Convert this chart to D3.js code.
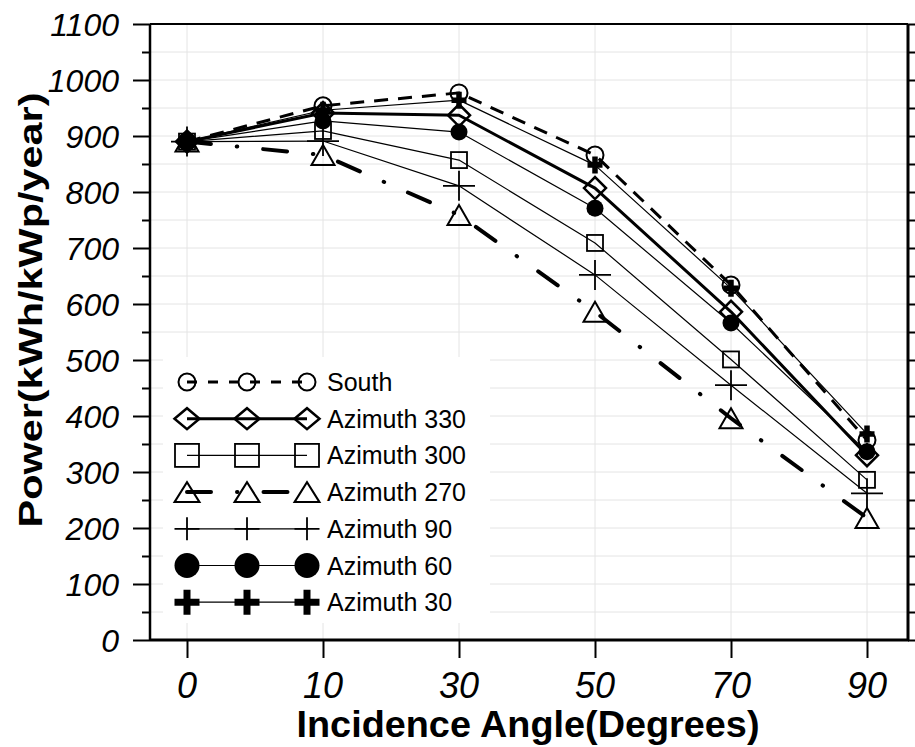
<!DOCTYPE html>
<html><head><meta charset="utf-8">
<script src="https://cdn.jsdelivr.net/npm/d3@7"></script>
<style>body{margin:0;background:#fff}svg{display:block}text{font-family:"Liberation Sans",Arial,sans-serif}</style>
</head><body>
<svg id="c" width="915" height="747"></svg>
<script>
const angles = ["0","10","30","50","70","90"];
const yTickValues = [0,100,200,300,400,500,600,700,800,900,1000,1100];
const seriesNames = ["South","Azimuth 330","Azimuth 300","Azimuth 270","Azimuth 90","Azimuth 60","Azimuth 30"];
const south = [890, 954, 977, 866, 634, 357];
const az330 = [890, 941, 937, 807, 586, 330];
const az300 = [890, 909, 857, 709, 501, 286];
const az270 = [890, 866, 759, 586, 396, 218];
const az90  = [890, 891, 811, 652, 455, 262];
const az60  = [890, 927, 907, 771, 566, 336];
const az30  = [890, 946, 964, 848, 628, 368];
const xTitle = "Incidence Angle(Degrees)";
const yTitle = "Power(kWh/kWp/year)";

const svg = d3.select("#c");
const L=150, R=908, T=24, B=640;
const x = d3.scalePoint().domain(angles).range([187, 867]);
const y = d3.scaleLinear().domain([0,1100]).range([B, T]);

// gridlines
const grid = svg.append("g").attr("stroke","#e4e4e4").attr("stroke-width",1);
d3.range(50,1100,50).forEach(v=>grid.append("line").attr("x1",L).attr("x2",R).attr("y1",y(v)).attr("y2",y(v)));
angles.forEach(a=>grid.append("line").attr("x1",x(a)).attr("x2",x(a)).attr("y1",T).attr("y2",B));

// axes
const leftAxis = svg.append("g").attr("transform",`translate(${L},0)`)
  .call(d3.axisLeft(y).tickValues(yTickValues).tickSize(17).tickFormat(""));
const minor = svg.append("g").attr("transform",`translate(${L},0)`)
  .call(d3.axisLeft(y).tickValues(d3.range(50,1100,100)).tickSize(8).tickFormat(""));
const rightAxis = svg.append("g").attr("transform",`translate(${R},0)`)
  .call(d3.axisRight(y).tickValues(d3.range(0,1101,50)).tickSize(7).tickFormat(""));
const bottomAxis = svg.append("g").attr("transform",`translate(0,${B})`)
  .call(d3.axisBottom(x).tickSize(18).tickFormat(""));
[leftAxis,minor,rightAxis,bottomAxis].forEach(g=>{
  g.select(".domain").remove();
  g.selectAll(".tick line").attr("stroke","#000").attr("stroke-width",2);
});
svg.append("line").attr("x1",L).attr("x2",R).attr("y1",T).attr("y2",T).attr("stroke","#000").attr("stroke-width",2);
svg.append("line").attr("x1",L).attr("x2",L).attr("y1",T).attr("y2",B+1).attr("stroke","#000").attr("stroke-width",2.5);
svg.append("line").attr("x1",R).attr("x2",R).attr("y1",T).attr("y2",B+1).attr("stroke","#000").attr("stroke-width",3);
svg.append("line").attr("x1",L).attr("x2",R+1).attr("y1",B).attr("y2",B).attr("stroke","#000").attr("stroke-width",3);

// tick labels
yTickValues.forEach(v=>svg.append("text").attr("x",119).attr("y",y(v)).attr("dy","0.36em")
  .attr("text-anchor","end").attr("font-style","italic").attr("font-size",32).text(v));
angles.forEach(a=>svg.append("text").attr("x",x(a)).attr("y",698)
  .attr("text-anchor","middle").attr("font-style","italic").attr("font-size",36).text(a));

// titles
svg.append("text").attr("x",528).attr("y",737).attr("text-anchor","middle")
  .attr("font-weight","bold").attr("font-size",37).attr("textLength",463).attr("lengthAdjust","spacingAndGlyphs").text(xTitle);
svg.append("text").attr("transform","translate(42,310) rotate(-90)").attr("text-anchor","middle")
  .attr("font-weight","bold").attr("font-size",34).attr("textLength",435).attr("lengthAdjust","spacingAndGlyphs").text(yTitle);

// marker drawing
function marker(g, type, cx, cy, big){
  const s = big ? 1 : 0;
  if(type==="circle"){
    g.append("circle").attr("cx",cx).attr("cy",cy).attr("r",8.5).attr("fill","none").attr("stroke","#000").attr("stroke-width",2);
  } else if(type==="diamond"){
    const w = big?12.5:11, h = big?10.5:11;
    g.append("path").attr("d",`M${cx-w},${cy}L${cx},${cy-h}L${cx+w},${cy}L${cx},${cy+h}Z`).attr("fill","none").attr("stroke","#000").attr("stroke-width",2.5);
  } else if(type==="square"){
    const w = big?12:8, h = big?11.5:8;
    g.append("rect").attr("x",cx-w).attr("y",cy-h).attr("width",2*w).attr("height",2*h).attr("fill","none").attr("stroke","#000").attr("stroke-width",1.8);
  } else if(type==="triangle"){
    const w = big?12.5:11.5, h = big?10:10;
    g.append("path").attr("d",`M${cx-w},${cy+h}L${cx},${cy-h}L${cx+w},${cy+h}Z`).attr("fill","none").attr("stroke","#000").attr("stroke-width",2);
  } else if(type==="plus"){
    const w = big?12.5:16, h = big?11.5:15;
    g.append("path").attr("d",`M${cx-w},${cy}H${cx+w}M${cx},${cy-h}V${cy+h}`).attr("fill","none").attr("stroke","#000").attr("stroke-width",1.8);
  } else if(type==="dot"){
    g.append("circle").attr("cx",cx).attr("cy",cy).attr("r",big?12.5:8.5).attr("fill","#000");
  } else if(type==="bplus"){
    const w = big?12.5:7.5, h = big?12.5:8.5;
    g.append("path").attr("d",`M${cx-w},${cy}H${cx+w}M${cx},${cy-h}V${cy+h}`).attr("fill","none").attr("stroke","#000").attr("stroke-width",big?7:5.5);
  }
}

const styles = [
  {data:south, type:"circle",  width:3,   dash:"14,10", cap:"butt"},
  {data:az330, type:"diamond", width:3,   dash:null,     cap:"butt"},
  {data:az300, type:"square",  width:1.2, dash:null,     cap:"butt"},
  {data:az270, type:"triangle",width:4,   dash:"24,26,0.5,26", cap:"round"},
  {data:az90,  type:"plus",    width:1.2, dash:null,     cap:"butt"},
  {data:az60,  type:"dot",     width:1.2, dash:null,     cap:"butt"},
  {data:az30,  type:"bplus",   width:1.2, dash:null,     cap:"butt"}
];

const line = d3.line().x((d,i)=>x(angles[i])).y(d=>y(d));
const plot = svg.append("g");
styles.forEach(st=>{
  const p = plot.append("path").attr("d",line(st.data)).attr("fill","none").attr("stroke","#000")
    .attr("stroke-width",st.width).attr("stroke-linecap",st.cap).attr("stroke-linejoin","round");
  if(st.dash) p.attr("stroke-dasharray",st.dash);
});
styles.forEach(st=>{
  st.data.forEach((v,i)=>marker(plot, st.type, x(angles[i]), y(v), false));
});

// legend
const lg = svg.append("g");
lg.append("rect").attr("x",163).attr("y",357).attr("width",327).attr("height",266).attr("fill","#fff");
const lx = [187,247,307];
styles.forEach((st,k)=>{
  const ly = 382 + k*36.7;
  const p = lg.append("line").attr("x1",lx[0]).attr("x2",lx[2]).attr("y1",ly).attr("y2",ly).attr("stroke","#000")
    .attr("stroke-width",st.width).attr("stroke-linecap",st.cap);
  if(st.dash) p.attr("stroke-dasharray",st.type==="circle"?"10,11":st.dash);
  lx.forEach(cx=>marker(lg, st.type, cx, ly, true));
  lg.append("text").attr("x",327).attr("y",ly).attr("dy","0.36em").attr("font-size",25).text(seriesNames[k]);
});
</script>
</body></html>
